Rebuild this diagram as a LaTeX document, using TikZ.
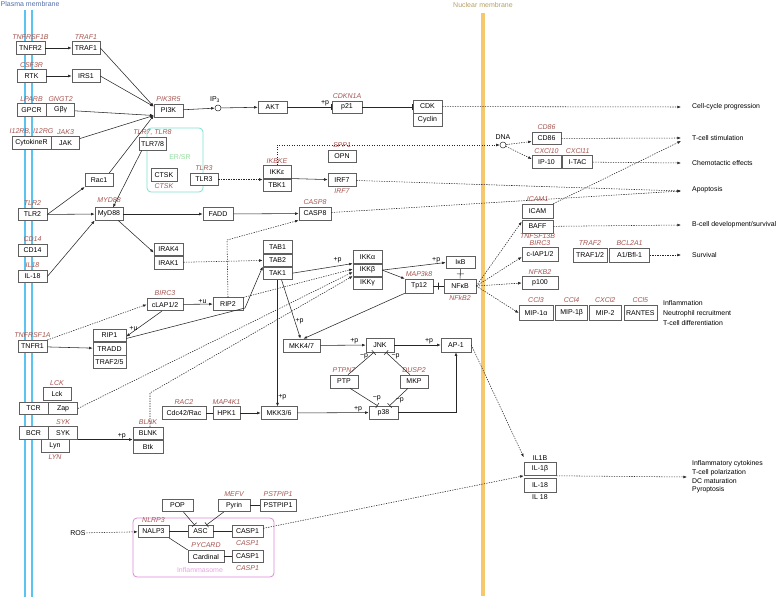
\documentclass[tikz,border=0pt]{standalone}
\usepackage{fontspec}
\setmainfont{Liberation Sans}
\usetikzlibrary{arrows.meta,calc,positioning}

\definecolor{boxgray}{RGB}{95,95,95}
\definecolor{symred}{RGB}{165,85,80}
\definecolor{pmblue}{RGB}{90,195,240}
\definecolor{pmtext}{RGB}{80,110,170}
\definecolor{nmyellow}{RGB}{245,200,110}
\definecolor{nmtext}{RGB}{180,160,100}
\definecolor{erteal}{RGB}{125,225,210}
\definecolor{ergreen}{RGB}{150,220,160}
\definecolor{inflpink}{RGB}{225,135,215}
\definecolor{infltext}{RGB}{230,165,225}

\begin{document}
\begin{tikzpicture}[x=1pt,y=-1pt,>=Latex,label distance=1.5pt,
  gene/.style={draw=boxgray,fill=white,line width=0.6pt,minimum width=29,
    minimum height=12.5,inner sep=0pt,font=\fontsize{7}{8}\selectfont},
  symlabel/.style={text=symred,font=\fontsize{7}{8}\selectfont\itshape,inner sep=0.5pt},
  pmod/.style={font=\fontsize{7}{8}\selectfont,inner sep=0.5pt},
  outcome/.style={font=\fontsize{6.9}{8.7}\selectfont,anchor=west,align=left,inner sep=0pt},
  compound/.style={circle,draw=black!85,line width=0.5pt,minimum size=6,inner sep=0pt},
  plainline/.style={draw=black!85,line width=0.55pt},
  actarrow/.style={plainline,-{Latex[length=3.6pt,width=2.8pt]}},
  inharrow/.style={plainline,-{Bar[width=6pt]}},
  indarrow/.style={actarrow,dash pattern=on 1.3pt off 1.2pt},
  tbar/.style={draw=black!85,line width=0.55pt,sloped,minimum height=7,minimum width=0,inner sep=0pt}]

\useasboundingbox (0,0) rectangle (776,599);

% membranes and compartments
\draw[pmblue,line width=2.6pt] (25,10) -- (25,597) (32,10) -- (32,597);
\draw[nmyellow,line width=3.6pt] (483,13) -- (483,596);
\node[pmod,text=pmtext,anchor=west] (pmlabel) at (0,4) {Plasma membrane};
\node[pmod,text=nmtext] (nmlabel) at (483,5) {Nuclear membrane};
\draw[erteal,line width=0.8pt,rounded corners=4pt] (147,128) rectangle (203,192);
\node[pmod,text=ergreen] (erlabel) at (180,157) {ER/SR};
\draw[inflpink,line width=0.8pt,rounded corners=4pt] (133,518) rectangle (274,577);
\node[pmod,text=infltext] (infllabel) at (200,570) {Inflammasome};

% receptors
\node[gene,label={[symlabel]above:TNFRSF1B}] (tnfr2) at (30.5,48) {TNFR2};
\node[gene,minimum width=28,label={[symlabel]above:TRAF1}] (traf1) at (86,48) {TRAF1};
\node[gene,label={[symlabel]above:CSF3R}] (rtk) at (31.5,76) {RTK};
\node[gene,minimum width=28] (irs1) at (86,76) {IRS1};
\node[gene,label={[symlabel]above:LPARB}] (gpcr) at (31.5,110) {GPCR};
\node[gene,minimum width=28,right=0pt of gpcr,label={[symlabel]above:GNGT2}] (gby) {Gβγ};
\node[gene,minimum width=39,label={[symlabel]above:{I12RB, I12RG}}] (cytokiner) at (31.5,143) {CytokineR};
\node[gene,minimum width=28,right=0pt of cytokiner,label={[symlabel]above:JAK3}] (jak) {JAK};

% PI3K - AKT
\node[gene,minimum height=13,label={[symlabel]above:PIK3R5}] (pi3k) at (168.5,110.5) {PI3K};
\node[compound,label={[pmod,xshift=-3]above:IP\textsubscript{3}}] (ip3) at (218,108) {};
\node[gene,minimum height=12] (akt) at (272.5,107) {AKT};
\node[gene,minimum width=30,minimum height=12,label={[symlabel]above:CDKN1A}] (p21) at (347,107) {p21};
\node[gene,minimum height=13] (cdk) at (427.5,106.5) {CDK};
\node[gene,minimum height=13,below=0pt of cdk] (cyclin) {Cyclin};

% TLRs
\node[gene,minimum width=27,label={[symlabel]above:{TLR7, TLR8}}] (tlr78) at (152.5,144) {TLR7/8};
\node[gene,minimum width=28,minimum height=13.5] (rac1) at (99,180) {Rac1};
\node[gene,minimum width=26,label={[symlabel]below:CTSK}] (ctsk) at (164,175) {CTSK};
\node[gene,minimum width=28,label={[symlabel]above:TLR3}] (tlr3) at (204,179.5) {TLR3};
\node[gene,minimum width=28,label={[symlabel]above:IKBKE}] (ikke) at (277,172) {IKKε};
\node[gene,minimum width=28,below=0pt of ikke] (tbk1) {TBK1};
\node[gene,minimum width=28,label={[symlabel]above:SPP1}] (opn) at (342,156.5) {OPN};
\node[gene,minimum width=28,label={[symlabel]below:IRF7}] (irf7) at (342,180) {IRF7};
\node[compound,label={[pmod]above:DNA}] (dna) at (503,145) {};
\node[gene,label={[symlabel]above:CD86}] (cd86) at (546.5,138.5) {CD86};
\node[gene,label={[symlabel]above:CXCl10}] (ip10) at (546.5,162) {IP-10};
\node[gene,minimum width=30,right=1pt of ip10,label={[symlabel]above:CXCl11}] (itac) {I-TAC};

\node[gene,label={[symlabel]above:TLR2}] (tlr2) at (32.5,214.5) {TLR2};
\node[gene,minimum width=28,label={[symlabel,yshift=3]above:MYD88}] (myd88) at (109,214) {MyD88};
\node[gene,minimum width=30] (fadd) at (218,214) {FADD};
\node[gene,minimum width=32,minimum height=13,label={[symlabel]above:CASP8}] (casp8) at (315,213.5) {CASP8};
\node[gene,label={[symlabel]above:CD14}] (cd14) at (32.5,250.5) {CD14};
\node[gene,label={[symlabel]above:IL18}] (il18r) at (32.5,276.5) {IL-18};
\node[gene] (irak4) at (168.5,249.5) {IRAK4};
\node[gene,below=0pt of irak4] (irak1) {IRAK1};

% TAK1 / IKK / NF-kB
\node[gene] (tab1) at (277.5,247) {TAB1};
\node[gene,below=0pt of tab1] (tab2) {TAB2};
\node[gene,below=0pt of tab2] (tak1) {TAK1};
\node[gene] (ikka) at (367.5,257) {IKKα};
\node[gene,below=0pt of ikka] (ikkb) {IKKβ};
\node[gene,below=0pt of ikkb] (ikkg) {IKKγ};
\node[gene] (ikb) at (460.5,262.5) {IκB};
\node[gene,minimum width=28,minimum height=14,label={[symlabel]above:MAP3k8}] (tp12) at (419,286) {Tp12};
\node[gene,minimum width=32,minimum height=14,label={[symlabel]below:NFkB2}] (nfkb) at (460,286) {NFκB};

% nuclear targets
\node[gene,minimum width=31,minimum height=14,label={[symlabel]above:ICAM1}] (icam) at (537.5,211) {ICAM};
\node[gene,minimum width=31,minimum height=13,label={[symlabel,yshift=1.5]below:TNFSF13B}] (baff) at (537.5,226.5) {BAFF};
\node[gene,minimum width=36,minimum height=14,label={[symlabel,yshift=-1.5]above:BIRC3}] (ciap) at (540,254) {c-IAP1/2};
\node[gene,minimum width=34,minimum height=14,label={[symlabel]above:TRAF2}] (traf12) at (590,255) {TRAF1/2};
\node[gene,minimum width=40,minimum height=14,right=2pt of traf12,label={[symlabel]above:BCL2A1}] (a1) {A1/Bfl-1};
\node[gene,minimum width=36,label={[symlabel]above:NFKB2}] (p100) at (540,283) {p100};
\node[gene,minimum width=34,minimum height=15,label={[symlabel]above:CCl3}] (mip1a) at (536,313) {MIP-1α};
\node[gene,minimum width=32,minimum height=15,right=2pt of mip1a,label={[symlabel]above:CCl4}] (mip1b) {MIP-1β};
\node[gene,minimum width=32,minimum height=15,right=1pt of mip1b,label={[symlabel]above:CXCl2}] (mip2) {MIP-2};
\node[gene,minimum width=33,minimum height=15,right=2pt of mip2,label={[symlabel]above:CCl5}] (rantes) {RANTES};

% TNFR1
\node[gene,minimum width=36,label={[symlabel]above:BIRC3}] (clap) at (165,304.5) {cLAP1/2};
\node[gene,minimum width=30] (rip2) at (228,304) {RIP2};
\node[gene,label={[symlabel]above:TNFRSF1A}] (tnfr1) at (32.5,346.5) {TNFR1};
\node[gene,minimum width=33] (rip1) at (109.5,335.5) {RIP1};
\node[gene,minimum width=33,below=0pt of rip1] (tradd) {TRADD};
\node[gene,minimum width=33,below=0pt of tradd] (traf25) {TRAF2/5};

% MAPK
\node[gene,minimum width=37,minimum height=13] (mkk47) at (301.5,345.5) {MKK4/7};
\node[gene,minimum width=28,minimum height=14] (jnk) at (380,345) {JNK};
\node[gene,minimum width=30,minimum height=14] (ap1) at (456,345) {AP-1};
\node[gene,minimum width=28,minimum height=13,label={[symlabel]above:PTPN7}] (ptp) at (344,381.5) {PTP};
\node[gene,minimum width=28,minimum height=13,label={[symlabel]above:DUSP2}] (mkp) at (414,381.5) {MKP};
\node[gene,minimum width=44,label={[symlabel]above:RAC2}] (cdc42) at (184,413) {Cdc42/Rac};
\node[gene,minimum width=27,label={[symlabel]above:MAP4K1}] (hpk1) at (226.5,413) {HPK1};
\node[gene,minimum width=36] (mkk36) at (279,413) {MKK3/6};
\node[gene,minimum height=13] (p38) at (383.5,412.5) {p38};

% TCR / BCR
\node[gene,minimum width=28,label={[symlabel]above:LCK}] (lck) at (57,394) {Lck};
\node[gene] (tcr) at (33.5,408.5) {TCR};
\node[gene,right=0pt of tcr] (zap) {Zap};
\node[gene] (bcr) at (33.5,433) {BCR};
\node[gene,right=0pt of bcr,label={[symlabel]above:SYK}] (syk) {SYK};
\node[gene,minimum width=28,label={[symlabel]below:LYN}] (lyn) at (55,446) {Lyn};
\node[gene,minimum width=30,label={[symlabel]above:BLNK}] (blnk) at (148,433.5) {BLNK};
\node[gene,minimum width=30,below=0pt of blnk] (btk) {Btk};

% inflammasome
\node[gene,minimum width=31] (pop) at (177.5,505.5) {POP};
\node[gene,minimum width=32,label={[symlabel]above:MEFV}] (pyrin) at (234,505.5) {Pyrin};
\node[gene,minimum width=36,label={[symlabel]above:PSTPIP1}] (pstpip1) at (278,505.5) {PSTPIP1};
\node[gene,minimum width=31,label={[symlabel]above:NLRP3}] (nalp3) at (153.5,531.5) {NALP3};
\node[gene,minimum width=25] (asc) at (200.5,531.5) {ASC};
\node[gene,minimum width=31,label={[symlabel]below:CASP1}] (casp1a) at (247.5,531.5) {CASP1};
\node[gene,minimum width=36,label={[symlabel]above:PYCARD}] (cardinal) at (206,556.5) {Cardinal};
\node[gene,minimum width=31,label={[symlabel]below:CASP1}] (casp1b) at (247.5,556.5) {CASP1};
\node[pmod] (ros) at (78,533) {ROS};
\node[gene,minimum width=32,minimum height=13,label={[pmod]above:IL1B}] (il1b) at (540,469) {IL-1β};
\node[gene,minimum width=32,minimum height=14,label={[pmod]below:IL 18}] (il18) at (540,485) {IL-18};

% outcomes
\node[outcome] (cellcycle) at (692,107) {Cell-cycle progression};
\node[outcome] (tstim) at (692,138) {T-cell stimulation};
\node[outcome] (chemo) at (692,163) {Chemotactic effects};
\node[outcome] (apop) at (692,190) {Apoptosis};
\node[outcome] (bcell) at (692,225) {B-cell development/survival};
\node[outcome] (surv) at (692,255) {Survival};
\node[outcome,font=\fontsize{6.9}{10}\selectfont] (infl) at (663,313) {Inflammation\\Neutrophil recruitment\\T-cell differentiation};
\node[outcome] (cyto) at (692,477) {Inflammatory cytokines\\T-cell polarization\\DC maturation\\Pyroptosis};

% PI3K / AKT edges
\draw[actarrow] (tnfr2) -- (traf1);
\draw[actarrow] (rtk) -- (irs1);
\draw[actarrow] (traf1.east) -- ([yshift=4]pi3k.west);
\draw[actarrow] (irs1.east) -- ([yshift=4]pi3k.west);
\draw[actarrow] (gby) -- ([yshift=-5]pi3k.west);
\draw[actarrow] (jak) -- ([yshift=-5]pi3k.west);
\draw[actarrow] ([xshift=-4]rac1.north east) -- ([yshift=-5]pi3k.west);
\draw[actarrow] (pi3k) -- (ip3);
\draw[actarrow] (ip3) -- (akt);
\draw[inharrow] (akt) -- node[pmod,above,pos=0.85] {+p} (p21);
\draw[inharrow] (p21) -- (p21 -| cdk.west);
\draw[indarrow] (cdk) -- ([xshift=-11]cellcycle.west);

% TLR edges
\draw[actarrow] (tlr2.east) -- (rac1.south west);
\draw[actarrow] (tlr2) -- (myd88);
\draw[actarrow] (il18r.east) -- (myd88.south west);
\draw[actarrow] ([xshift=3]tlr78.south west) -- ([xshift=4]myd88.north);
\draw[actarrow] (myd88) -- (fadd);
\draw[actarrow] (fadd) -- (casp8);
\draw[actarrow] ([xshift=-5]myd88.south east) -- ([yshift=-3]irak4.west);
\draw[indarrow] (irak1) -- (tab2);
\draw[indarrow] (tlr3) -- (tlr3 -| ikke.west);
\draw[actarrow] (tbk1.north east) -- (irf7);
\draw[indarrow] (ikke.north) |- (dna);
\draw[indarrow] (dna) -- ([yshift=-3]cd86.west);
\draw[indarrow] (dna) -- ([yshift=3]ip10.west);

% IKK / NF-kB edges
\draw[actarrow] (tak1.east) -- node[pmod,above=2pt,pos=0.75] {+p} (ikka.south west);
\coordinate (casp8bend) at (227,240);
\draw[indarrow] (rip2.north) -- (casp8bend) -- (casp8.south west);
\draw[indarrow] (rip2.north east) -- ([yshift=1]ikkb.west);
\draw[indarrow] (zap.east) -- ([yshift=-2]ikkb.west);
\coordinate (blnkbend) at (150,393);
\draw[indarrow] ([xshift=2]blnk.north) -- (blnkbend) -- ([yshift=-6]ikkb.west);
\draw[actarrow] (ikkb.east) -- (tp12.north west);
\draw[actarrow] (ikkb.east) -- node[pmod,above,pos=0.85] {+p} (ikb.west);
\draw[plainline] (ikb) -- node[tbar] {} (nfkb);
\draw[plainline] (tp12) -- node[tbar] {} (nfkb);
\draw[actarrow] (tp12.south west) -- ([xshift=2]mkk47.north);
\draw[actarrow] ([xshift=4]tak1.south) -- node[pmod,right,pos=0.7] {+p} ([xshift=-1]mkk47.north);
\draw[actarrow] (tak1.south) -- node[pmod,right,pos=0.93] {+p} (tak1.south |- mkk36.north);
\draw[indarrow] (nfkb.east) -- ([yshift=-2]baff.north west);
\draw[indarrow] (nfkb.east) -- ([yshift=-3]ciap.west);
\draw[indarrow] (nfkb.east) -- (p100.west);
\draw[indarrow] (nfkb.east) -- (mip1a.west);

% outcome edges
\draw[indarrow] (cd86) -- ([xshift=-11]tstim.west);
\draw[indarrow] (icam.north east) -- ([xshift=-11,yshift=-3]tstim.west);
\draw[indarrow] (itac) -- ([xshift=-11]chemo.west);
\draw[indarrow] (irf7) -- ([xshift=-11,yshift=-1]apop.west);
\draw[indarrow] (casp8) -- ([xshift=-11,yshift=-1]apop.west);
\draw[indarrow] (baff) -- ([xshift=-11]bcell.west);
\draw[indarrow] (a1) -- ([xshift=-11]surv.west);

% TNFR1 edges
\draw[indarrow] (tnfr1.north east) -- (clap.west);
\draw[actarrow] (tnfr1) -- (tradd);
\draw[actarrow] ([xshift=-3]clap.south) -- node[pmod,above,pos=0.8] {+u} ([yshift=-1]rip1.east);
\draw[actarrow] (clap) -- node[pmod,above,pos=0.65] {+u} (rip2);
\coordinate (rip1bend) at (245,308);
\draw[actarrow] ([yshift=-3]rip1.east) -- (rip1bend) -- (tak1.north west);

% MAPK edges
\draw[actarrow] (mkk47) -- node[pmod,above,pos=0.75] {+p} (jnk);
\draw[actarrow] (jnk) -- node[pmod,above,pos=0.75] {+p} (ap1);
\draw[plainline] (cdc42) -- (hpk1);
\draw[actarrow] (hpk1) -- (mkk36);
\draw[actarrow] (mkk36) -- node[pmod,above,pos=0.85] {+p} (p38);
\draw[actarrow] (p38.east) -| (ap1.south);
\draw[inharrow] ([xshift=4]ptp.north) -- node[pmod,left,pos=0.8] {−p} ([xshift=-6]jnk.south);
\draw[inharrow] ([xshift=-4]mkp.north) -- node[pmod,right,pos=0.8] {−p} ([xshift=6]jnk.south);
\draw[inharrow] ([xshift=6]ptp.south) -- node[pmod,above right,pos=0.8] {−p} ([xshift=-6]p38.north);
\draw[inharrow] ([xshift=-6]mkp.south) -- node[pmod,right,pos=0.7] {−p} ([xshift=6]p38.north);
\draw[actarrow] (syk.south east) -- node[pmod,above,pos=0.8] {+p} (syk.south east -| blnk.west);
\draw[indarrow] (ap1.east) -- ([yshift=5]il1b.north west);

% inflammasome edges
\draw[indarrow] (ros) -- (nalp3);
\draw[plainline] (nalp3) -- (asc);
\draw[plainline] (asc) -- (casp1a);
\draw[plainline] (nalp3.south east) -- (cardinal.north west);
\draw[plainline] (cardinal) -- (casp1b);
\draw[inharrow] ([xshift=6]pop.south) -- ([xshift=-6]asc.north);
\draw[inharrow] ([xshift=6]pyrin.south west) -- ([xshift=6]asc.north);
\draw[plainline] (pyrin) -- (pstpip1);
\draw[indarrow] (casp1a) -- (il1b.south west);
\draw[indarrow] (il1b.south east) -- ([xshift=-5]cyto.west);
\end{tikzpicture}
\end{document}
